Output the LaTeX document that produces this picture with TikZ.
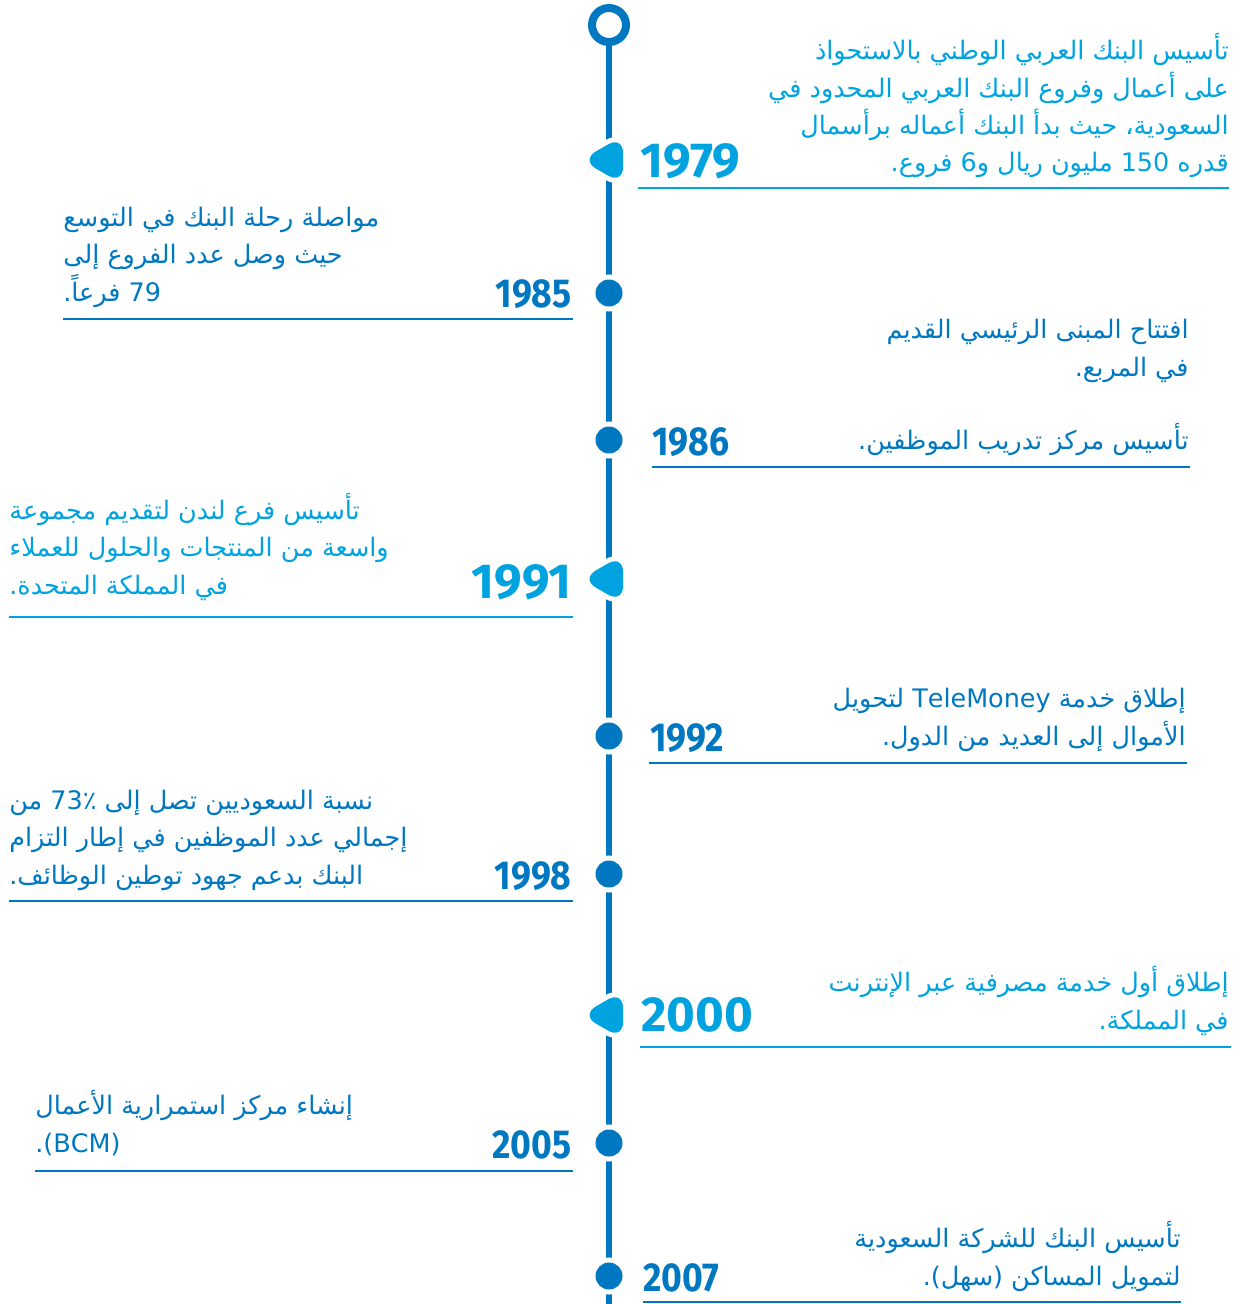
\documentclass[tikz,border=0pt]{standalone}
\usepackage{fontspec}
\TeXXeTstate=1
\newfontfamily\arabicfont[Script=Arabic]{DejaVu Sans}
\newfontfamily\yearfont[FakeStretch=0.88]{Fira Sans}
\newfontfamily\bigyearfont{Fira Sans}
\definecolor{darkblue}{RGB}{0,120,193}
\definecolor{lightblue}{RGB}{0,163,224}
\tikzset{
  spine/.style={darkblue, line width=0.12cm},
  ringmark/.style={circle, draw=darkblue, fill=white, line width=0.16cm, minimum size=0.68cm, inner sep=0},
  dotmark/.style={circle, fill=darkblue, minimum size=0.54cm, inner sep=0, preaction={draw=white, line width=0.2cm}},
  pics/trimark/.style={code={
    \path[fill=lightblue, rounded corners=0.34cm, preaction={draw=white, line width=0.2cm}]
      (14,0) -- (14,24.2) -- (-28,0) -- (14,-24.2) -- cycle;
  }},
  evtR/.style={anchor=base east, inner sep=0, align=right, font=\arabicfont\fontsize{14.5}{21.3}\selectfont},
  evtL/.style={anchor=base west, inner sep=0, align=left, font=\arabicfont\fontsize{14.5}{21.3}\selectfont},
  yearD/.style={inner sep=0, text=darkblue, font=\yearfont\bfseries\fontsize{23}{23}\selectfont},
  yearL/.style={inner sep=0, text=lightblue, font=\bigyearfont\bfseries\fontsize{28}{28}\selectfont},
  rule/.style={line width=0.04cm}
}
\begin{document}
\begin{tikzpicture}[x=0.02cm, y=-0.02cm]
\useasboundingbox (0,0) rectangle (1244,1304);

% the time line
\node[ringmark] (start) at (609,25) {};
\coordinate (finish) at (609,1304);
\draw[spine] (start.south) -- (finish);

% markers on the line
\pic (m1979) at (609,160) {trimark};
\node[dotmark] (m1985) at (609,293) {};
\node[dotmark] (m1986) at (609,440) {};
\pic (m1991) at (609,579) {trimark};
\node[dotmark] (m1992) at (609,736) {};
\node[dotmark] (m1998) at (609,874) {};
\pic (m2000) at (609,1015) {trimark};
\node[dotmark] (m2005) at (609,1143) {};
\node[dotmark] (m2007) at (609,1276) {};

% 1979
\node[yearL, anchor=base west] (y1979) at (640,178) {1979};
\node[evtR, text=lightblue] (t1979) at (1229,172) {\beginR تأسيس البنك العربي الوطني بالاستحواذ\endR\\
  \beginR على أعمال وفروع البنك العربي المحدود في\endR\\
  \beginR السعودية، حيث بدأ البنك أعماله برأسمال\endR\\
  \beginR قدره 150 مليون ريال و6 فروع.\endR};
\draw[rule, lightblue] (638,188) -- (1229,188);

% 1985
\node[yearD, anchor=base east] (y1985) at (572,307) {1985};
\node[evtL, text=darkblue] (t1985) at (63,301) {\beginR مواصلة رحلة البنك في التوسع\endR\\
  \beginR حيث وصل عدد الفروع إلى\endR\\
  \beginR 79 فرعاً.\endR};
\draw[rule, darkblue] (63,319) -- (573,319);

% 1986
\node[evtR, text=darkblue] (t1986a) at (1189,376) {\beginR افتتاح المبنى الرئيسي القديم\endR\\
  \beginR في المربع.\endR};
\node[yearD, anchor=base west] (y1986) at (652,455) {1986};
\node[evtR, text=darkblue] (t1986b) at (1189,449) {\beginR تأسيس مركز تدريب الموظفين.\endR};
\draw[rule, darkblue] (652,467) -- (1190,467);

% 1991
\node[yearL, anchor=base east] (y1991) at (572,598) {1991};
\node[evtL, text=lightblue] (t1991) at (9,594) {\beginR تأسيس فرع لندن لتقديم مجموعة\endR\\
  \beginR واسعة من المنتجات والحلول للعملاء\endR\\
  \beginR في المملكة المتحدة.\endR};
\draw[rule, lightblue] (9,617) -- (573,617);

% 1992
\node[yearD, anchor=base west] (y1992) at (650,751) {1992};
\node[evtR, text=darkblue] (t1992) at (1186,745) {\beginR إطلاق خدمة TeleMoney لتحويل\endR\\
  \beginR الأموال إلى العديد من الدول.\endR};
\draw[rule, darkblue] (649,763) -- (1187,763);

% 1998
\node[yearD, anchor=base east] (y1998) at (572,889) {1998};
\node[evtL, text=darkblue] (t1998) at (9,884) {\beginR نسبة السعوديين تصل إلى 73٪ من\endR\\
  \beginR إجمالي عدد الموظفين في إطار التزام\endR\\
  \beginR البنك بدعم جهود توطين الوظائف.\endR};
\draw[rule, darkblue] (9,901) -- (573,901);

% 2000
\node[yearL, anchor=base west] (y2000) at (641,1031) {2000};
\node[evtR, text=lightblue] (t2000) at (1229,1029) {\beginR إطلاق أول خدمة مصرفية عبر الإنترنت\endR\\
  \beginR في المملكة.\endR};
\draw[rule, lightblue] (640,1047) -- (1231,1047);

% 2005
\node[yearD, anchor=base east] (y2005) at (572,1158) {2005};
\node[evtL, text=darkblue] (t2005) at (35,1152) {\beginR إنشاء مركز استمرارية الأعمال\endR\\
  \beginR\beginL(BCM)\endL.\endR};
\draw[rule, darkblue] (35,1171) -- (573,1171);

% 2007
\node[yearD, anchor=base west] (y2007) at (643,1291) {2007};
\node[evtR, text=darkblue] (t2007) at (1181,1285) {\beginR تأسيس البنك للشركة السعودية\endR\\
  \beginR لتمويل المساكن (سهل).\endR};
\draw[rule, darkblue] (643,1302) -- (1181,1302);
\end{tikzpicture}
\end{document}
